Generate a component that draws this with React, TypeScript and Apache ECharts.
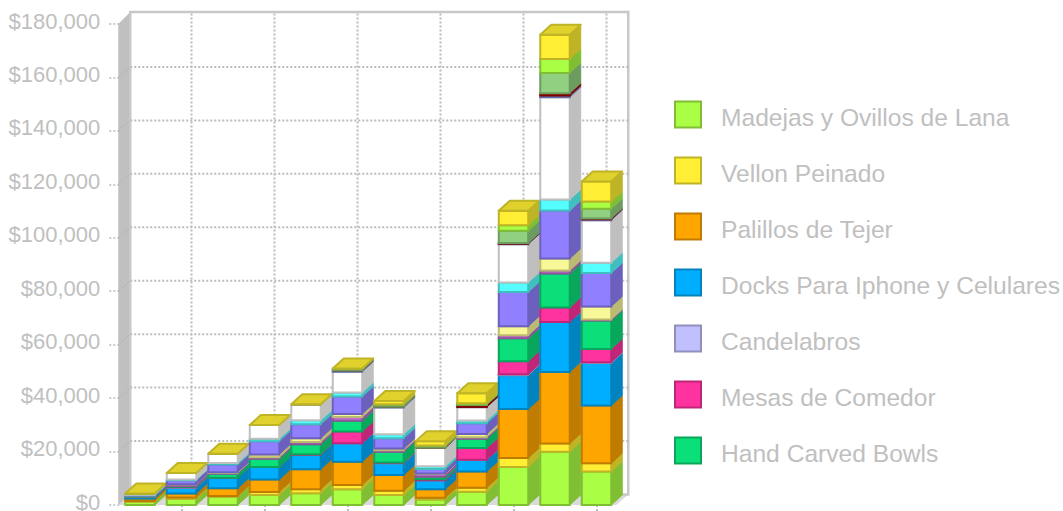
import React, { useEffect, useRef } from "react";
import * as echarts from "echarts";

const periods = ["1", "2", "3", "4", "5", "6", "7", "8", "9", "10", "11", "12"];
const axisTicks = [0, 20000, 40000, 60000, 80000, 100000, 120000, 140000, 160000, 180000];

// Sales per product, bottom of the stack first.
const madejas = [1200, 2200, 3100, 3700, 4400, 5900, 3700, 2100, 5000, 14200, 19900, 12500];
const vellon = [300, 600, 300, 1200, 1500, 1600, 1600, 600, 1500, 3400, 3100, 3100];
const palillos = [900, 1500, 2900, 4600, 7500, 8700, 5900, 3200, 6000, 18300, 26800, 21600];
const docks = [600, 2200, 3900, 4700, 5400, 6900, 4400, 3400, 4400, 12700, 18700, 15900];
const candelabros = [0, 100, 0, 0, 0, 0, 100, 0, 0, 300, 0, 300];
const mesas = [0, 200, 0, 0, 200, 4400, 200, 300, 4400, 4900, 5400, 5000];
const bowls = [200, 300, 1500, 3100, 3700, 4000, 4000, 1000, 3500, 8600, 12700, 10600];
const mauve = [100, 600, 300, 600, 900, 1400, 600, 1000, 600, 1100, 1200, 400];
const pale = [100, 100, 300, 1000, 1400, 1200, 600, 200, 1200, 3400, 4400, 4900];
const violet = [200, 1500, 2900, 5000, 5200, 6500, 3900, 1700, 4000, 12800, 18000, 12500];
const cyan = [200, 200, 500, 900, 1500, 1500, 1500, 1000, 1000, 3600, 4100, 3900];
const white = [500, 2500, 3500, 5100, 6000, 7800, 10000, 6900, 5000, 14300, 38300, 15900];
const periwinkle = [0, 0, 0, 0, 0, 400, 300, 0, 100, 200, 600, 300];
const crimson = [0, 0, 0, 0, 0, 0, 0, 0, 700, 200, 900, 300];
const sage = [0, 0, 0, 0, 0, 800, 800, 800, 300, 4600, 7600, 3700];
const lime = [0, 0, 0, 0, 0, 0, 100, 100, 400, 2100, 5200, 2700];
const gold = [0, 0, 0, 0, 0, 0, 1200, 1600, 3700, 5400, 9100, 7500];

const stackNames = [
  "Madejas y Ovillos de Lana", "Vellon Peinado", "Palillos de Tejer",
  "Docks Para Iphone y Celulares", "Candelabros", "Mesas de Comedor", "Hand Carved Bowls",
  "Producto 8", "Producto 9", "Producto 10", "Producto 11", "Producto 12",
  "Producto 13", "Producto 14", "Producto 15", "Producto 16", "Producto 17",
];
const stackValues = [
  madejas, vellon, palillos, docks, candelabros, mesas, bowls, mauve, pale,
  violet, cyan, white, periwinkle, crimson, sage, lime, gold,
];
const stackColors = [
  "#AAFF44", "#FFEE33", "#FFA500", "#00AEFF", "#C0C0FF", "#FF33A0", "#0ADF7A", "#C070D0", "#F8F898",
  "#9080FF", "#55FFFF", "#FFFFFF", "#8090E0", "#AA0000", "#90D080", "#AAFF44", "#FFEE33",
];
const legendCount = 7;

const DEPTH_X = 11;
const DEPTH_Y = 10;
const WALL_X = 12;
const WALL_Y = 10.5;
const GUIDE_X = 10;
const TEXT = "#C0C0C0";
const GUIDE = "#BCBCBC";
const FONT = "Liberation Sans";

function shade(hex: string, factor: number) {
  const n = parseInt(hex.slice(1), 16);
  const ch = (s: number) => Math.round(((n >> s) & 255) * factor);
  return `rgb(${ch(16)},${ch(8)},${ch(0)})`;
}

function App() {
  const ref = useRef<HTMLDivElement>(null);

  useEffect(() => {
    const chart = echarts.init(ref.current!, undefined, { renderer: "svg" });

    // Floor, side wall, back wall and the dotted guides behind the columns.
    const roomSeries = {
      type: "custom",
      name: "room",
      silent: true,
      data: [[0]],
      renderItem: (_p: any, api: any) => {
        const band = api.size([1, 0])[0];
        const [x0, y0] = api.coord([0, 0]);
        const left = x0 - band / 2 - 1;
        const right = left + band * periods.length;
        const top = api.coord([0, axisTicks[axisTicks.length - 1]])[1];
        const children: any[] = [
          { type: "polygon", z2: -10, shape: { points: [[left, top], [left + WALL_X, top - WALL_Y - 1.5], [left + WALL_X, y0 - WALL_Y], [left, y0]] },
            style: { fill: "#C0C0C0" } },
          { type: "polygon", z2: -10, shape: { points: [[left, y0], [left + WALL_X, y0 - WALL_Y], [right + WALL_X, y0 - WALL_Y], [right, y0]] },
            style: { fill: "#DADADA" } },
          { type: "rect", z2: -9, shape: { x: left + WALL_X, y: top - WALL_Y - 1.5, width: right - left, height: y0 - top + 1.5 },
            style: { fill: "#FFFFFF", stroke: "#C8C8C8", lineWidth: 2.5 } },
        ];
        axisTicks.slice(1, -1).forEach((v) => {
          const y = api.coord([0, v])[1];
          children.push({ type: "line", z2: -8, shape: { x1: left + WALL_X, y1: y - WALL_Y, x2: right + WALL_X, y2: y - WALL_Y },
            style: { stroke: GUIDE, lineWidth: 2, lineDash: [2, 2] } });
          children.push({ type: "line", z2: -8, shape: { x1: left, y1: y, x2: left + WALL_X, y2: y - WALL_Y },
            style: { stroke: "#B0B0B0", lineWidth: 1, lineDash: [2, 2] } });
        });
        periods.forEach((_c, i) => {
          if (i % 2 === 0) return;
          const x = api.coord([i, 0])[0] + GUIDE_X;
          children.push({ type: "line", z2: -8, shape: { x1: x, y1: top - WALL_Y, x2: x, y2: y0 - WALL_Y },
            style: { stroke: GUIDE, lineWidth: 2, lineDash: [2, 2] } });
        });
        return { type: "group", children };
      },
    };

    // Each product is a stack of boxes: front face, side face, and a lid on the last one.
    const running = periods.map(() => 0);
    const stackSeries = stackValues.map((values, s) => {
      const color = stackColors[s];
      const edge = shade(color, 0.75);
      const lid = shade(color, 0.88);
      const rows = values.map((v, i) => {
        const row = [i, running[i], running[i] + v];
        running[i] += v;
        return row;
      });
      return {
        type: "custom",
        name: stackNames[s],
        silent: true,
        itemStyle: { color, borderColor: edge, borderWidth: 2 },
        encode: { x: 0, y: 2 },
        data: rows,
        renderItem: (_p: any, api: any) => {
          const col = api.value(0);
          const width = api.size([1, 0])[0] * 0.71;
          const [cx, yLow] = api.coord([col, api.value(1)]);
          const yHigh = api.coord([col, api.value(2)])[1];
          const x0 = cx - width / 2;
          const x1 = cx + width / 2;
          const order = col * 100 + s;
          const children: any[] = [
            { type: "polygon", z2: order,
              shape: { points: [[x1, yLow], [x1 + DEPTH_X, yLow - DEPTH_Y], [x1 + DEPTH_X, yHigh - DEPTH_Y], [x1, yHigh]] },
              style: { fill: edge, stroke: edge, lineWidth: 1 } },
            { type: "rect", z2: order + 0.5,
              shape: { x: x0, y: yHigh, width, height: yLow - yHigh },
              style: { fill: color, stroke: edge, lineWidth: 2 } },
          ];
          if (s === stackValues.length - 1) {
            children.push({ type: "polygon", z2: order + 0.6,
              shape: { points: [[x0, yHigh], [x0 + DEPTH_X, yHigh - DEPTH_Y], [x1 + DEPTH_X, yHigh - DEPTH_Y], [x1, yHigh]] },
              style: { fill: lid, stroke: edge, lineWidth: 2, lineJoin: "round" } });
          }
          return { type: "group", children };
        },
      };
    });

    chart.setOption({
      animation: false,
      backgroundColor: "#FFFFFF",
      grid: { left: 119.25, top: 24, width: 498, height: 481, containLabel: false, outerBoundsMode: "none" },
      xAxis: {
        type: "category",
        data: periods,
        axisLine: { show: false },
        axisLabel: { show: false },
        splitLine: { show: false },
        axisTick: {
          show: true, alignWithLabel: true, length: 6,
          interval: (i: number) => i % 2 === 1,
          lineStyle: { color: GUIDE, width: 2, type: [2, 2] },
        },
      },
      yAxis: {
        type: "value",
        min: 0,
        max: 180000,
        interval: 20000,
        axisLine: { show: false },
        splitLine: { show: false },
        axisTick: { show: true, length: 11, lineStyle: { color: GUIDE, width: 1.5, type: [2, 2] } },
        axisLabel: {
          margin: 19,
          formatter: (v: number) => `{v|$${v.toLocaleString("en-US")}}`,
          rich: { v: { color: TEXT, fontFamily: FONT, fontSize: 22, lineHeight: 6, padding: [0, 0, 6, 0] } },
        },
      },
      legend: {
        orient: "vertical",
        left: 674,
        top: 99.5,
        padding: 0,
        icon: "rect",
        itemWidth: 26,
        itemHeight: 26,
        itemGap: 26,
        selectedMode: false,
        data: stackNames.slice(0, legendCount),
        itemStyle: { borderWidth: 2 },
        formatter: "{t|{name}}",
        textStyle: {
          rich: { t: { color: TEXT, fontFamily: FONT, fontSize: 24.6, lineHeight: 28, padding: [5, 0, 0, 15] } },
        },
      },
      series: [roomSeries, ...stackSeries],
    });

    return () => chart.dispose();
  }, []);

  return <div ref={ref} style={{ position: "absolute", left: 0, top: 0, width: 1063, height: 511 }} />;
}

export default App;
